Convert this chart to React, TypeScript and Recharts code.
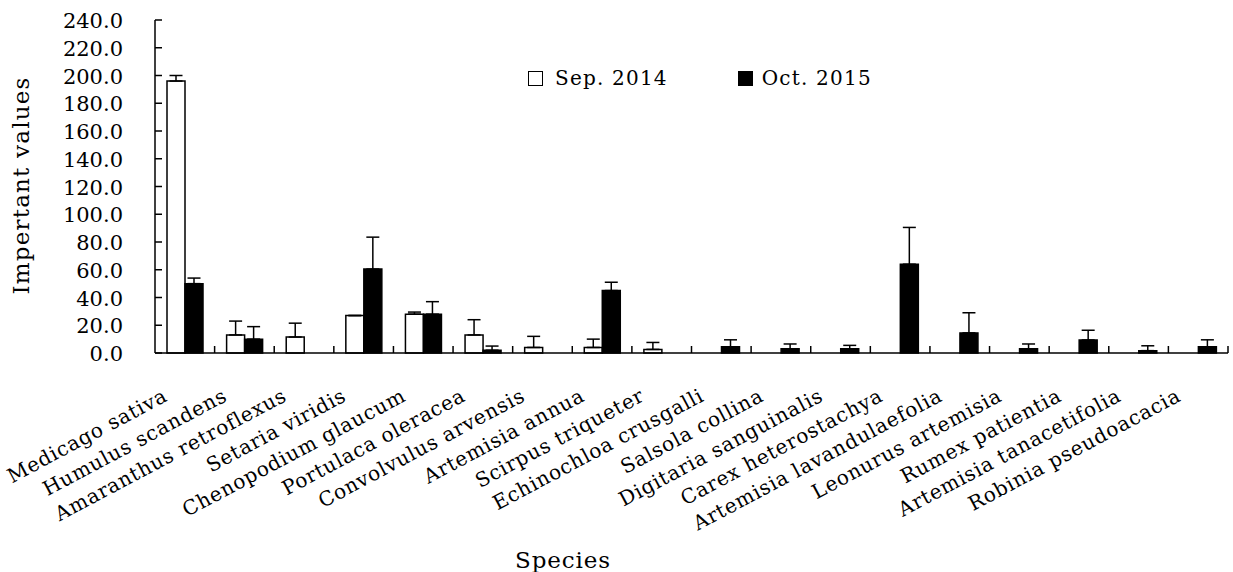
import React from 'react';
import { BarChart, Bar, XAxis, YAxis, ErrorBar, Legend } from 'recharts';

// species along the x axis
const species = [
  'Medicago sativa',
  'Humulus scandens',
  'Amaranthus retroflexus',
  'Setaria viridis',
  'Chenopodium glaucum',
  'Portulaca oleracea',
  'Convolvulus arvensis',
  'Artemisia annua',
  'Scirpus triqueter',
  'Echinochloa crusgalli',
  'Salsola collina',
  'Digitaria sanguinalis',
  'Carex heterostachya',
  'Artemisia lavandulaefolia',
  'Leonurus artemisia',
  'Rumex patientia',
  'Artemisia tanacetifolia',
  'Robinia pseudoacacia',
];

// importance values
const sep2014 = [196, 13, 11.5, 27, 28, 13, 4, 4, 2.6, 0, 0, 0, 0, 0, 0, 0, 0, 0];
const sep2014Err = [4, 10, 10, 0, 1.5, 11, 8, 6, 5, 0, 0, 0, 0, 0, 0, 0, 0, 0];
const oct2015 = [50, 10, 0, 60.5, 28, 2, 0, 45, 0, 4.5, 3, 3, 64, 14.5, 3, 9.4, 1.7, 4.5];
const oct2015Err = [4, 9, 0, 23, 9, 3, 0, 6, 0, 5, 3.5, 2.5, 26.5, 14.5, 3.5, 7, 3.5, 5];

const yTicks = [0, 20, 40, 60, 80, 100, 120, 140, 160, 180, 200, 220, 240];

const FONT = 'DejaVu Serif, Liberation Serif, serif';
const WIDTH = 1233;
const HEIGHT = 572;
const PLOT_LEFT = 155;
const PLOT_RIGHT = 5;
const BAND = (WIDTH - PLOT_LEFT - PLOT_RIGHT) / species.length;

const data = species.map((name, i) => ({
  name,
  sep: sep2014[i],
  sepErr: [0, sep2014Err[i]],
  oct: oct2015[i],
  octErr: [0, oct2015Err[i]],
}));

const YTick = (props: any) => {
  const { x, y, payload } = props;
  return (
    <g>
      <line x1={x + 32} x2={x + 39} y1={y} y2={y} stroke="#000" strokeWidth={1.5} />
      <text x={x} y={y} dy={8} textAnchor="end" fontFamily={FONT} fontSize={21} fill="#000">
        {Number(payload.value).toFixed(1)}
      </text>
    </g>
  );
};

const XTick = (props: any) => {
  const { x, y, payload } = props;
  return (
    <g>
      <line x1={x + BAND / 2} x2={x + BAND / 2} y1={y} y2={y - 7} stroke="#000" strokeWidth={1.5} />
      <text
        transform={`translate(${x - 16},${y + 47}) rotate(-28)`}
        textAnchor="end"
        fontFamily={FONT}
        fontSize={20}
        letterSpacing={0.8}
        fill="#000"
      >
        {payload.value}
      </text>
    </g>
  );
};

const LegendBox = () => (
  <div style={{ display: 'flex', alignItems: 'center', fontFamily: FONT, fontSize: 20, color: '#000' }}>
    <span style={{ width: 13, height: 13, border: '1.5px solid #000', background: '#fff', display: 'inline-block' }} />
    <span style={{ marginLeft: 12, letterSpacing: 1.2 }}>Sep. 2014</span>
    <span style={{ width: 13, height: 13, border: '1.5px solid #000', background: '#000', display: 'inline-block', marginLeft: 70 }} />
    <span style={{ marginLeft: 9, letterSpacing: 1.2 }}>Oct. 2015</span>
  </div>
);

export default function App() {
  return (
    <div style={{ position: 'absolute', left: 0, top: 0, background: '#fff' }}>
      <BarChart
        width={WIDTH}
        height={HEIGHT}
        data={data}
        margin={{ top: 20, right: PLOT_RIGHT, bottom: 0, left: 0 }}
        barGap={0}
        barSize={18}
      >
        <XAxis
          dataKey="name"
          height={219}
          interval={0}
          tickSize={0}
          tickMargin={0}
          tickLine={false}
          axisLine={{ stroke: '#000', strokeWidth: 1.5 }}
          tick={<XTick />}
          label={{
            content: () => (
              <text x={563} y={568} textAnchor="middle" fontFamily={FONT} fontSize={23} letterSpacing={0.9} fill="#000">
                Species
              </text>
            ),
          }}
        />
        <YAxis
          width={PLOT_LEFT}
          domain={[0, 240]}
          ticks={yTicks}
          interval={0}
          tickSize={0}
          tickMargin={32}
          tickLine={false}
          axisLine={{ stroke: '#000', strokeWidth: 1.5 }}
          tick={<YTick />}
          label={{
            content: (p: any) => {
              const vb = p.viewBox || { y: 20, height: 333 };
              const cy = vb.y + vb.height / 2 - 1;
              return (
                <text
                  transform={`translate(29,${cy}) rotate(-90)`}
                  textAnchor="middle"
                  fontFamily={FONT}
                  fontSize={23}
                  letterSpacing={1.2}
                  fill="#000"
                >
                  Impertant values
                </text>
              );
            },
          }}
        />
        <Legend
          layout="horizontal"
          verticalAlign="middle"
          align="center"
          content={<LegendBox />}
          wrapperStyle={{ top: 66, left: 528, width: 420, height: 26 }}
        />
        <Bar dataKey="sep" name="Sep. 2014" fill="#fff" stroke="#000" strokeWidth={1.5} isAnimationActive={false}>
          <ErrorBar dataKey="sepErr" width={6.5} stroke="#000" strokeWidth={1.5} />
        </Bar>
        <Bar dataKey="oct" name="Oct. 2015" fill="#000" stroke="#000" strokeWidth={1.5} isAnimationActive={false}>
          <ErrorBar dataKey="octErr" width={6.5} stroke="#000" strokeWidth={1.5} />
        </Bar>
      </BarChart>
    </div>
  );
}
